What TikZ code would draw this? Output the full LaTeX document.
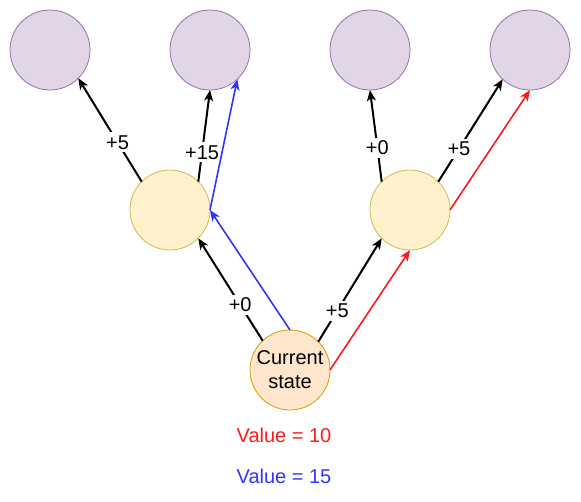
\documentclass[tikz,border=0pt]{standalone}
\usepackage{fontspec}
\setmainfont{Liberation Sans}
\usetikzlibrary{arrows.meta}
\definecolor{pfill}{HTML}{E1D5E7}
\definecolor{pdraw}{HTML}{9673A6}
\definecolor{yfill}{HTML}{FFF2CC}
\definecolor{ydraw}{HTML}{D6B656}
\definecolor{ofill}{HTML}{FFE6CC}
\definecolor{odraw}{HTML}{D79B00}
\definecolor{myblue}{HTML}{3333FF}
\definecolor{myred}{HTML}{FF1A1A}
\tikzset{
  circ/.style={circle, minimum size=80pt, inner sep=0pt, outer sep=0pt, line width=0.8pt},
  topc/.style={circ, fill=pfill, draw=pdraw},
  midc/.style={circ, fill=yfill, draw=ydraw},
  curc/.style={circ, fill=ofill, draw=odraw},
  edge/.style={line width=2pt, -{Stealth[length=11pt,width=9pt,inset=3pt]}},
  cedge/.style={line width=1.6pt, -{Stealth[length=11pt,width=9pt,inset=3pt]}},
  lbl/.style={fill=white, inner sep=3pt, text=black},
  txt/.style={font=\fontsize{20}{24}\selectfont}
}
\begin{document}
\begin{tikzpicture}[x=1pt,y=-1pt, every node/.style={txt}]
\useasboundingbox (0,0) rectangle (581,502);
\node[topc] (t1) at (50,50) {};
\node[topc] (t2) at (210,50) {};
\node[topc] (t3) at (370,50) {};
\node[topc] (t4) at (530,50) {};
\node[midc] (m1) at (170,210) {};
\node[midc] (m2) at (410,210) {};
\node[curc, align=center] (cur) at (290,370) {Current\\state};

\draw[edge] (m1.135) -- node[lbl, pos=0.38] {+5} (t1.-45);
\draw[edge] (m1.45) -- node[lbl, pos=0.32] {+15} (t2.south);
\draw[cedge, myblue] (m1.east) -- (t2.-47);
\draw[cedge, myblue] (cur.north) -- (m1.east);
\draw[edge] (cur.133) -- node[lbl, pos=0.35] {+0} (m1.-45);
\draw[edge] (cur.45) -- node[lbl, pos=0.3] {+5} (m2.-135);
\draw[cedge, myred] (cur.east) -- (m2.south);
\draw[edge] (m2.135) -- node[lbl, pos=0.37] {+0} (t3.south);
\draw[edge] (m2.45) -- node[lbl, pos=0.32] {+5} (t4.-133);
\draw[cedge, myred] (m2.east) -- (t4.south);

\node[text=myred] (v10) at (284,435) {Value = 10};
\node[text=myblue] (v15) at (284,476) {Value = 15};
\end{tikzpicture}
\end{document}
